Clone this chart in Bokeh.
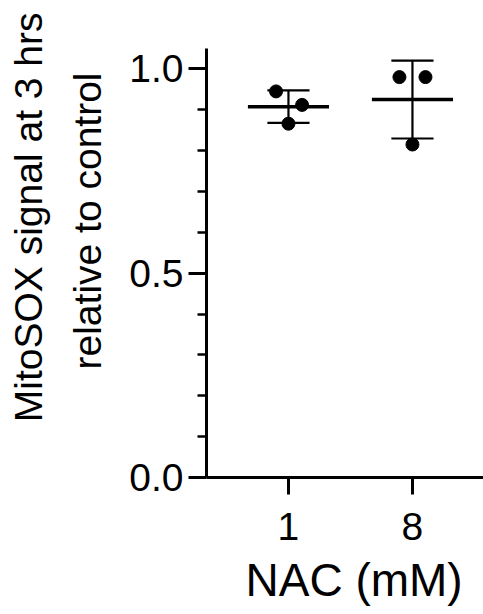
import numpy as np
from bokeh.plotting import figure
from bokeh.models import FixedTicker, Range1d, Title
from bokeh.embed import file_html
from bokeh.resources import INLINE

# NAC concentrations (mM) and MitoSOX signal per replicate, relative to control
categories = ["1", "8"]
values_1mM = [0.945, 0.912, 0.866]
values_8mM = [0.980, 0.980, 0.815]
jitter_1mM = [-0.10, 0.11, 0.0]
jitter_8mM = [-0.105, 0.105, 0.0]

y_major = [0.0, 0.5, 1.0]
y_minor = [0.1, 0.2, 0.3, 0.4, 0.6, 0.7, 0.8, 0.9]

FONT = "Liberation Sans"

groups = [values_1mM, values_8mM]
jitters = [jitter_1mM, jitter_8mM]
positions = list(range(1, len(categories) + 1))

p = figure(width=483, height=614, output_backend="svg", toolbar_location=None,
           x_range=Range1d(0.339, 2.573), y_range=Range1d(0, 1.05),
           min_border_left=206, min_border_right=0, min_border_top=48,
           min_border_bottom=136)
p.outline_line_color = None
p.xgrid.visible = False
p.ygrid.visible = False
p.background_fill_color = "white"
p.border_fill_color = "white"

# scatter of replicates
xs, ys = [], []
for pos, vals, jit in zip(positions, groups, jitters):
    xs += [pos + j for j in jit]
    ys += vals
p.scatter(xs, ys, size=13, color="black")

# mean line and SD error bars
means = [float(np.mean(v)) for v in groups]
sds = [float(np.std(v, ddof=1)) for v in groups]
mean_hw, cap_hw = 0.327, 0.17
p.segment([x - mean_hw for x in positions], means, [x + mean_hw for x in positions], means,
          line_color="black", line_width=3.5)
p.segment(positions, [m - s for m, s in zip(means, sds)], positions,
          [m + s for m, s in zip(means, sds)], line_color="black", line_width=2.2)
for sign in (-1, 1):
    ends = [m + sign * s for m, s in zip(means, sds)]
    p.segment([x - cap_hw for x in positions], ends, [x + cap_hw for x in positions], ends,
              line_color="black", line_width=2.2)

# axes
for ax in (p.xaxis[0], p.yaxis[0]):
    ax.axis_line_width = 3
    ax.axis_line_color = "black"
    ax.major_tick_line_width = 3
    ax.major_tick_line_color = "black"
    ax.minor_tick_line_width = 2.5
    ax.minor_tick_line_color = "black"
    ax.major_tick_in = 0
    ax.minor_tick_in = 0
    ax.major_label_text_font = FONT
    ax.major_label_text_font_size = "39px"
    ax.major_label_text_color = "black"

p.xaxis.ticker = FixedTicker(ticks=positions)
p.xaxis.major_label_overrides = {pos: c for pos, c in zip(positions, categories)}
p.xaxis.major_tick_out = 17
p.xaxis.minor_tick_out = 0
p.xaxis.major_label_standoff = 18

p.yaxis.ticker = FixedTicker(ticks=y_major, minor_ticks=y_minor)
p.yaxis.major_label_overrides = {0: "0.0", 0.5: "0.5", 1: "1.0"}
p.yaxis.major_tick_out = 18
p.yaxis.minor_tick_out = 9
p.yaxis.major_label_standoff = 5

# y-axis title, two centred lines (inner line first)
title_style = dict(text_font=FONT, text_font_size="39px", text_font_style="normal",
                   text_color="black")
p.add_layout(Title(text="relative to control", align="right", offset=24, standoff=36,
                   **title_style), "left")
p.add_layout(Title(text="MitoSOX signal at 3 hrs", align="right", offset=-36, standoff=-9,
                   **title_style), "left")

# x-axis title
p.add_layout(Title(text="NAC (mM)", align="left", offset=39, standoff=18,
                   text_font=FONT, text_font_size="46px", text_font_style="normal",
                   text_color="black"), "below")

open("out.html", "w").write(file_html(p, INLINE))
